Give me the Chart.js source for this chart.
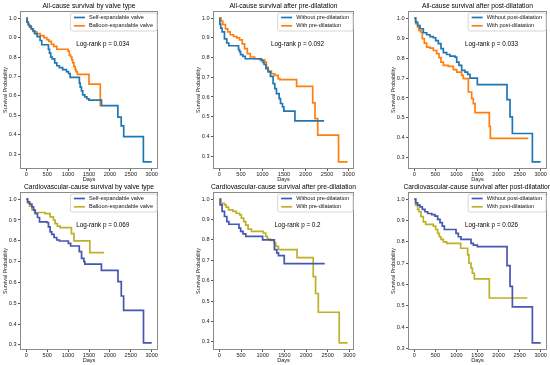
<!DOCTYPE html>
<html><head><meta charset="utf-8">
<script src="https://cdn.jsdelivr.net/npm/chart.js@4.4.1/dist/chart.umd.min.js"></script>
<style>
html,body{margin:0;padding:0;background:#fff;overflow:hidden;width:550px;height:365px;position:relative;}
canvas{position:absolute;}
</style></head><body>
<script>
// ---------- DATA ----------
const xTickValues = [0, 500, 1000, 1500, 2000, 2500, 3000];
const yTickValues = [0.3, 0.4, 0.5, 0.6, 0.7, 0.8, 0.9, 1.0];

const panelTitles = [
  "All-cause survival by valve type",
  "All-cause survival after pre-dilatation",
  "All-cause survival after post-dilatation",
  "Cardiovascular-cause survival by valve type",
  "Cardiovascular-cause survival after pre-dilatation",
  "Cardiovascular-cause survival after post-dilatation"
];
const seriesLabels = [
  ["Self-expandable valve", "Balloon-expandable valve"],
  ["Without pre-dilatation", "With pre-dilatation"],
  ["Without post-dilatation", "With post-dilatation"],
  ["Self-expandable valve", "Balloon-expandable valve"],
  ["Without pre-dilatation", "With pre-dilatation"],
  ["Without post-dilatation", "With post-dilatation"]
];
const logRankP = ["0.034", "0.092", "0.033", "0.069", "0.2", "0.026"];

// Panel 1: all-cause, valve type
const allSelfDays = [0, 20, 50, 80, 120, 160, 200, 260, 330, 370, 530, 555, 585, 620, 680, 730, 790, 870, 960, 1010, 1050, 1270, 1290, 1320, 1350, 1400, 1450, 1500, 1800, 2190, 2270, 2330, 2800, 3000];
const allSelfSurv = [1.0, 0.98, 0.965, 0.955, 0.945, 0.935, 0.92, 0.905, 0.885, 0.863, 0.84, 0.82, 0.80, 0.79, 0.77, 0.755, 0.745, 0.735, 0.725, 0.715, 0.695, 0.665, 0.645, 0.625, 0.605, 0.595, 0.585, 0.578, 0.55, 0.49, 0.445, 0.39, 0.26, 0.26];
const allBalloonDays = [0, 15, 40, 70, 120, 170, 250, 330, 420, 490, 540, 600, 660, 730, 1000, 1030, 1060, 1090, 1110, 1140, 1170, 1190, 1220, 1500, 1770, 1800];
const allBalloonSurv = [1.0, 0.98, 0.97, 0.96, 0.945, 0.93, 0.92, 0.91, 0.90, 0.89, 0.88, 0.865, 0.855, 0.84, 0.83, 0.81, 0.80, 0.785, 0.77, 0.75, 0.735, 0.725, 0.71, 0.66, 0.55, 0.55];

// Panel 2: all-cause, pre-dilatation
const allNoPreDays = [0, 10, 30, 62, 117, 171, 218, 444, 468, 491, 545, 600, 974, 1013, 1037, 1080, 1130, 1185, 1247, 1286, 1325, 1387, 1419, 1465, 1497, 1754, 2432];
const allNoPreSurv = [1.0, 0.97, 0.95, 0.93, 0.895, 0.874, 0.86, 0.84, 0.83, 0.815, 0.806, 0.794, 0.785, 0.775, 0.765, 0.744, 0.727, 0.705, 0.668, 0.642, 0.617, 0.592, 0.567, 0.55, 0.528, 0.479, 0.479];
const allPreDays = [0, 39, 78, 140, 195, 250, 327, 405, 468, 530, 585, 647, 717, 818, 935, 1052, 1091, 1130, 1208, 1286, 1364, 1403, 1793, 2167, 2221, 2284, 2767, 2977];
const allPreSurv = [1.0, 0.985, 0.968, 0.946, 0.93, 0.916, 0.907, 0.90, 0.89, 0.87, 0.845, 0.82, 0.803, 0.794, 0.789, 0.777, 0.752, 0.732, 0.718, 0.71, 0.693, 0.688, 0.654, 0.57, 0.49, 0.406, 0.271, 0.271];

// Panel 3: all-cause, post-dilatation
const allNoPostDays = [0, 32, 79, 135, 214, 293, 372, 451, 507, 570, 633, 689, 768, 847, 966, 1006, 1061, 1124, 1203, 1267, 1322, 1496, 2201, 2272, 2328, 2803, 3000];
const allNoPostSurv = [1.0, 0.98, 0.963, 0.947, 0.927, 0.917, 0.908, 0.902, 0.888, 0.872, 0.847, 0.827, 0.818, 0.81, 0.805, 0.78, 0.763, 0.738, 0.73, 0.718, 0.70, 0.667, 0.592, 0.505, 0.422, 0.28, 0.28];
const allPostDays = [0, 32, 79, 111, 158, 190, 238, 293, 372, 451, 530, 586, 633, 689, 808, 926, 1006, 1124, 1164, 1283, 1362, 1401, 1441, 1781, 1805, 2708];
const allPostSurv = [1.0, 0.972, 0.955, 0.938, 0.93, 0.897, 0.875, 0.855, 0.85, 0.838, 0.822, 0.802, 0.78, 0.763, 0.758, 0.742, 0.73, 0.713, 0.697, 0.63, 0.597, 0.572, 0.527, 0.458, 0.398, 0.398];

// Panel 4: cardiovascular, valve type
const cvSelfDays = [0, 32, 79, 135, 174, 214, 269, 317, 491, 530, 570, 610, 665, 728, 792, 1006, 1061, 1267, 1322, 1378, 1401, 1797, 2193, 2272, 2328, 2803, 3000];
const cvSelfSurv = [1.0, 0.987, 0.976, 0.963, 0.947, 0.931, 0.912, 0.891, 0.888, 0.867, 0.843, 0.831, 0.816, 0.804, 0.799, 0.788, 0.775, 0.748, 0.716, 0.70, 0.688, 0.658, 0.604, 0.535, 0.466, 0.31, 0.31];
const cvBalloonDays = [0, 32, 79, 135, 198, 451, 570, 649, 689, 744, 808, 1080, 1140, 1520, 1860];
const cvBalloonSurv = [1.0, 0.982, 0.966, 0.95, 0.936, 0.931, 0.915, 0.90, 0.883, 0.871, 0.863, 0.835, 0.80, 0.743, 0.743];

// Panel 5: cardiovascular, pre-dilatation
const cvNoPreDays = [0, 16, 62, 117, 171, 218, 452, 491, 546, 608, 998, 1270, 1325, 1364, 1497, 2432];
const cvNoPreSurv = [1.0, 0.972, 0.94, 0.915, 0.89, 0.877, 0.858, 0.842, 0.83, 0.817, 0.80, 0.752, 0.736, 0.723, 0.684, 0.684];
const cvPreDays = [0, 39, 117, 156, 210, 312, 390, 468, 507, 561, 608, 662, 740, 1013, 1068, 1107, 1169, 1263, 1302, 1364, 1793, 2167, 2221, 2284, 2767, 2960];
const cvPreSurv = [1.0, 0.98, 0.972, 0.961, 0.948, 0.94, 0.931, 0.923, 0.907, 0.89, 0.873, 0.853, 0.842, 0.834, 0.817, 0.804, 0.798, 0.785, 0.768, 0.752, 0.713, 0.62, 0.537, 0.445, 0.295, 0.295];

// Panel 6: cardiovascular, post-dilatation
const cvNoPostDays = [0, 32, 79, 135, 190, 253, 317, 412, 491, 554, 610, 665, 713, 990, 1045, 1108, 1346, 1401, 1496, 2201, 2272, 2328, 2803, 3000];
const cvNoPostSurv = [1.0, 0.983, 0.972, 0.964, 0.952, 0.941, 0.933, 0.928, 0.921, 0.905, 0.89, 0.874, 0.858, 0.84, 0.824, 0.812, 0.793, 0.785, 0.778, 0.689, 0.591, 0.495, 0.327, 0.327];
const cvPostDays = [0, 32, 79, 111, 158, 214, 269, 451, 507, 554, 594, 633, 689, 768, 1101, 1267, 1298, 1346, 1378, 1425, 1781, 2684];
const cvPostSurv = [1.0, 0.972, 0.952, 0.941, 0.918, 0.894, 0.882, 0.874, 0.858, 0.84, 0.824, 0.812, 0.80, 0.793, 0.77, 0.739, 0.70, 0.677, 0.653, 0.627, 0.537, 0.537];

// ---------- STYLE / LAYOUT ----------
const FONT = "'Liberation Sans', Arial, sans-serif";
const topColors = ["#1f77b4", "#ff7f0e"];
const botColors = ["#4556b3", "#bdb12a"];
const colSpines = [[20, 158], [213, 354], [408, 547]];
const rowSpines = [[11, 169], [192, 350]];

const panelSeries = [
  [[allSelfDays, allSelfSurv], [allBalloonDays, allBalloonSurv]],
  [[allNoPreDays, allNoPreSurv], [allPreDays, allPreSurv]],
  [[allNoPostDays, allNoPostSurv], [allPostDays, allPostSurv]],
  [[cvSelfDays, cvSelfSurv], [cvBalloonDays, cvBalloonSurv]],
  [[cvNoPreDays, cvNoPreSurv], [cvPreDays, cvPreSurv]],
  [[cvNoPostDays, cvNoPostSurv], [cvPostDays, cvPostSurv]]
];

const PADL = 40, PADT = 22, PADR = 30, PADB = 30;

function makePanel(i) {
  const col = i % 3, row = Math.floor(i / 3);
  const [L, R] = colSpines[col];
  const [T, B] = rowSpines[row];
  const W = R - L, H = B - T;
  const cv = document.createElement('canvas');
  cv.width = W + PADL + PADR; cv.height = H + PADT + PADB;
  cv.style.left = (L - PADL) + 'px'; cv.style.top = (T - PADT) + 'px';
  cv.style.width = cv.width + 'px'; cv.style.height = cv.height + 'px';
  document.body.appendChild(cv);

  const colors = row === 0 ? topColors : botColors;
  const series = panelSeries[i];
  let xmax = 0, ymin = 1, ymax = 0;
  series.forEach(([d, s]) => { xmax = Math.max(xmax, ...d); ymin = Math.min(ymin, ...s); ymax = Math.max(ymax, ...s); });
  const xm = 0.05 * xmax, ym = 0.05 * (ymax - ymin);

  const datasets = series.map(([d, s], k) => ({
    label: seriesLabels[i][k],
    data: d.map((x, j) => ({ x: x, y: s[j] })),
    stepped: 'before',
    borderColor: colors[k],
    borderWidth: 1.7,
    pointRadius: 0,
    fill: false
  }));

  const decor = {
    id: 'decor' + i,
    afterDraw(chart) {
      const ctx = chart.ctx, a = chart.chartArea;
      ctx.save();
      // frame
      ctx.strokeStyle = '#8a8a8a'; ctx.lineWidth = 1;
      ctx.strokeRect(a.left + 0.5, a.top + 0.5, a.right - a.left - 1, a.bottom - a.top - 1);
      // title
      ctx.fillStyle = '#000';
      ctx.font = `6.7px ${FONT}`;
      ctx.textAlign = 'center'; ctx.textBaseline = 'middle';
      ctx.fillText(panelTitles[i], (a.left + a.right) / 2, a.top - 5);
      // x label
      ctx.font = `5.6px ${FONT}`;
      ctx.fillStyle = '#222';
      ctx.fillText('Days', (a.left + a.right) / 2, a.bottom + 10.5);
      // y label
      ctx.save();
      ctx.translate(a.left - 14.5, (a.top + a.bottom) / 2);
      ctx.rotate(-Math.PI / 2);
      ctx.font = `5.4px ${FONT}`;
      ctx.fillText('Survival Probability', 0, 0);
      ctx.restore();
      // annotation
      ctx.font = `6.3px ${FONT}`;
      ctx.fillStyle = '#000';
      ctx.fillText('Log-rank p = ' + logRankP[i], a.left + 0.6 * (a.right - a.left), a.bottom - 0.79 * (a.bottom - a.top));
      // legend
      ctx.font = `5.6px ${FONT}`;
      const tw = Math.max(...seriesLabels[i].map(t => ctx.measureText(t).width));
      const bw = 4 + 11 + 4 + tw + 3.5, bh = 18;
      const bx = a.right - 1.5 - bw, by = a.top + 1.5;
      ctx.beginPath();
      if (ctx.roundRect) ctx.roundRect(bx + 0.5, by + 0.5, bw, bh, 2); else ctx.rect(bx + 0.5, by + 0.5, bw, bh);
      ctx.fillStyle = 'rgba(255,255,255,0.8)'; ctx.fill();
      ctx.strokeStyle = '#d6d6d6'; ctx.lineWidth = 1; ctx.stroke();
      ctx.textAlign = 'left';
      seriesLabels[i].forEach((t, k) => {
        const yy = by + 5 + k * 8.3;
        ctx.strokeStyle = colors[k]; ctx.lineWidth = 1.7;
        ctx.beginPath(); ctx.moveTo(bx + 4, yy); ctx.lineTo(bx + 15, yy); ctx.stroke();
        ctx.fillStyle = '#111';
        ctx.fillText(t, bx + 19, yy);
      });
      ctx.restore();
    }
  };

  new Chart(cv, {
    type: 'line',
    data: { datasets },
    options: {
      responsive: false, animation: false, events: [], devicePixelRatio: 1,
      layout: { padding: { left: 0, top: PADT, right: PADR, bottom: 0 } },
      plugins: { legend: { display: false }, title: { display: false }, tooltip: { enabled: false } },
      scales: {
        x: {
          type: 'linear', min: -xm, max: xmax + xm,
          afterBuildTicks: s => { s.ticks = xTickValues.map(v => ({ value: v })); },
          afterFit: s => { s.height = PADB; },
          grid: { display: true, drawOnChartArea: false, drawTicks: true, tickLength: 2, color: '#555' },
          border: { display: false },
          ticks: { font: { family: FONT, size: 5.6 }, color: '#222', padding: 0.5, maxRotation: 0, autoSkip: false, callback: v => String(v) }
        },
        y: {
          type: 'linear', min: ymin - ym, max: ymax + ym,
          afterBuildTicks: s => { s.ticks = yTickValues.filter(v => v >= ymin - ym && v <= ymax + ym + 1e-9).map(v => ({ value: v })); },
          afterFit: s => { s.width = PADL; },
          grid: { display: true, drawOnChartArea: false, drawTicks: true, tickLength: 2, color: '#555' },
          border: { display: false },
          ticks: { font: { family: FONT, size: 5.6 }, color: '#222', padding: 1.5, autoSkip: false, callback: v => Number(v).toFixed(1) }
        }
      }
    },
    plugins: [decor]
  });
}
for (let i = 0; i < 6; i++) makePanel(i);
</script>
</body></html>
